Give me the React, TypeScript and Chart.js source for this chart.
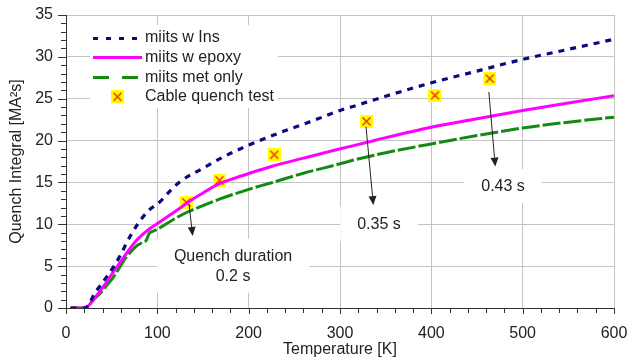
import React, { useEffect, useRef } from 'react';
import { Chart, registerables } from 'chart.js';

Chart.register(...registerables);

// ---- Data ----
const insT = [5, 20, 25, 30, 37, 45, 52, 60, 66, 72, 79, 90, 103, 114, 125, 150, 175, 201, 238, 271, 300, 318, 350, 400, 450, 500, 550, 600];
const insQ = [0, 0, 0.4, 1.5, 2.6, 3.8, 4.9, 6.4, 7.7, 8.9, 10.1, 11.6, 12.7, 14.0, 15.1, 16.7, 18.2, 19.5, 21.1, 22.4, 23.6, 24.2, 25.3, 26.9, 28.3, 29.7, 30.9, 32.1];

const epoxyT = [5, 20, 25, 30, 40, 48, 57, 66, 75, 81, 92, 103, 115, 125, 132, 147, 168, 183, 201, 223, 260, 296, 330, 350, 400, 450, 500, 550, 600];
const epoxyQ = [0, 0, 0.3, 1.0, 2.4, 3.7, 5.1, 6.5, 7.8, 8.5, 9.5, 10.3, 11.2, 11.95, 12.5, 13.55, 14.85, 15.45, 16.1, 16.85, 17.9, 18.9, 19.8, 20.35, 21.6, 22.6, 23.6, 24.5, 25.35];

const metT = [5, 21, 25, 30, 36, 41, 46, 52, 59, 66, 70, 77, 85, 88, 91, 96, 103, 115, 128, 136, 168, 201, 223, 260, 296, 318, 350, 400, 450, 500, 550, 600];
const metQ = [0, 0, 0.3, 1.0, 1.6, 2.2, 2.9, 3.7, 4.9, 6.1, 6.6, 7.4, 7.9, 8.1, 8.9, 9.2, 9.6, 10.4, 11.2, 11.6, 13.0, 14.2, 14.9, 16.1, 17.1, 17.75, 18.55, 19.6, 20.6, 21.5, 22.2, 22.8];

const testT = [132, 168, 228, 329, 404, 464];
const testQ = [12.6, 15.25, 18.3, 22.3, 25.4, 27.4];

const seriesNames = ['miits w Ins', 'miits w epoxy', 'miits met only', 'Cable quench test'];
const xTitle = 'Temperature [K]';
const yTitle = 'Quench Integral [MA\u00B2s]';

const noteTexts = [['Quench duration', '0.2 s'], ['0.35 s'], ['0.43 s']];
const noteAt = [[182.9, 4.93], [342.7, 9.92], [478.5, 14.45]];
const arrowFrom = [[134.7, 12.4], [328.5, 21.66], [463, 25.8]];
const arrowTo = [[138.7, 8.6], [336.5, 12.3], [470, 16.9]];

// ---- Styles ----
const FONT_FAMILY = '"Liberation Sans", Arial, sans-serif';
const FONT = '16px ' + FONT_FAMILY;
const TEXT = '#222222';
const GRID = '#c4c4c4';
const AXIS = '#333333';
const BLUE = '#0a0a80';
const PINK = '#ff00ff';
const GREEN = '#138a13';

function makeMarker(): HTMLCanvasElement {
  const c = document.createElement('canvas');
  c.width = 13;
  c.height = 13;
  const g = c.getContext('2d')!;
  g.fillStyle = '#ffff00';
  g.fillRect(0, 0, 13, 13);
  g.strokeStyle = '#ff2a00';
  g.lineWidth = 1.5;
  g.beginPath();
  g.moveTo(2.5, 2.5);
  g.lineTo(10.5, 10.5);
  g.moveTo(10.5, 2.5);
  g.lineTo(2.5, 10.5);
  g.stroke();
  return c;
}

function pts(xs: number[], ys: number[]) {
  return xs.map((v, i) => ({ x: v, y: ys[i] }));
}

export default function App() {
  const ref = useRef<HTMLCanvasElement | null>(null);

  useEffect(() => {
    document.body.style.margin = '0';
    const canvas = ref.current;
    if (!canvas) return;
    const marker = makeMarker();

    const overlay = {
      id: 'overlay',
      beforeDatasetsDraw(chart: any) {
        const { ctx, chartArea, scales } = chart;
        const x = scales.x, y = scales.y;
        ctx.save();
        ctx.fillStyle = '#ffffff';
        ctx.fillRect(chartArea.left + 24, chartArea.top + 10, 188, 83);
        ctx.font = FONT;
        noteTexts.forEach((lines, i) => {
          const cx = x.getPixelForValue(noteAt[i][0]);
          const cy = y.getPixelForValue(noteAt[i][1]);
          const w = Math.max(...lines.map((l) => ctx.measureText(l).width));
          const h = lines.length * 20;
          ctx.fillRect(cx - w / 2 - 17, cy - h / 2 - 8, w + 34, h + 14);
        });
        ctx.restore();
      },
      afterDatasetsDraw(chart: any) {
        const { ctx, chartArea, scales } = chart;
        const x = scales.x, y = scales.y;
        ctx.save();
        ctx.font = FONT;
        ctx.fillStyle = TEXT;
        ctx.textAlign = 'center';
        ctx.textBaseline = 'middle';
        noteTexts.forEach((lines, i) => {
          const cx = x.getPixelForValue(noteAt[i][0]);
          const cy = y.getPixelForValue(noteAt[i][1]);
          const h = lines.length * 20;
          lines.forEach((l, j) => {
            ctx.fillText(l, cx, cy - h / 2 + 10 + j * 20);
          });
        });
        ctx.strokeStyle = TEXT;
        ctx.fillStyle = TEXT;
        ctx.lineWidth = 1;
        arrowFrom.forEach((f, i) => {
          const x0 = x.getPixelForValue(f[0]);
          const y0 = y.getPixelForValue(f[1]);
          const x1 = x.getPixelForValue(arrowTo[i][0]);
          const y1 = y.getPixelForValue(arrowTo[i][1]);
          const ang = Math.atan2(y1 - y0, x1 - x0);
          const L = 9, W = 4;
          const bx = x1 - L * Math.cos(ang);
          const by = y1 - L * Math.sin(ang);
          ctx.beginPath();
          ctx.moveTo(x0, y0);
          ctx.lineTo(bx, by);
          ctx.stroke();
          ctx.beginPath();
          ctx.moveTo(x1, y1);
          ctx.lineTo(bx + W * Math.sin(ang), by - W * Math.cos(ang));
          ctx.lineTo(bx - W * Math.sin(ang), by + W * Math.cos(ang));
          ctx.closePath();
          ctx.fill();
        });
        const lx0 = chartArea.left + 27;
        const lx1 = chartArea.left + 76;
        const rowTop = chartArea.top + 22.7;
        const rowGap = 19.7;
        const styles = [
          { c: BLUE, d: [5, 8] },
          { c: PINK, d: [] },
          { c: GREEN, d: [16, 13] },
        ];
        styles.forEach((s, i) => {
          const ry = Math.round(rowTop + i * rowGap) + 0.5;
          ctx.strokeStyle = s.c;
          ctx.lineWidth = 3;
          ctx.setLineDash(s.d);
          ctx.beginPath();
          ctx.moveTo(lx0, ry);
          ctx.lineTo(lx1, ry);
          ctx.stroke();
        });
        ctx.setLineDash([]);
        ctx.drawImage(marker, (lx0 + lx1) / 2 - 6.5, rowTop + 3 * rowGap - 6.5);
        ctx.fillStyle = TEXT;
        ctx.textAlign = 'left';
        ctx.textBaseline = 'middle';
        seriesNames.forEach((n, i) => {
          ctx.fillText(n, lx1 + 3, rowTop + i * rowGap);
        });
        ctx.restore();
      },
      afterDraw(chart: any) {
        const { ctx, chartArea, scales } = chart;
        const x = scales.x, y = scales.y;
        ctx.save();
        ctx.strokeStyle = AXIS;
        ctx.lineWidth = 1;
        ctx.beginPath();
        for (let v = 0; v <= 600; v += 20) {
          const px = Math.round(x.getPixelForValue(v)) + 0.5;
          ctx.moveTo(px, chartArea.bottom);
          ctx.lineTo(px, chartArea.bottom + (v % 100 === 0 ? 6 : 5));
        }
        for (let v = 0; v <= 35; v += 1) {
          const py = Math.round(y.getPixelForValue(v)) + 0.5;
          ctx.moveTo(chartArea.left - (v % 5 === 0 ? 8 : 5), py);
          ctx.lineTo(chartArea.left, py);
        }
        ctx.stroke();
        ctx.restore();
      },
    };

    const chart = new Chart(canvas, {
      type: 'line',
      data: {
        datasets: [
          {
            label: seriesNames[0],
            data: pts(insT, insQ),
            borderColor: BLUE,
            borderWidth: 3.2,
            borderDash: [6, 6],
            pointRadius: 0,
            cubicInterpolationMode: 'monotone',
            fill: false,
          },
          {
            label: seriesNames[1],
            data: pts(epoxyT, epoxyQ),
            borderColor: PINK,
            borderWidth: 3,
            pointRadius: 0,
            cubicInterpolationMode: 'monotone',
            fill: false,
          },
          {
            label: seriesNames[2],
            data: pts(metT, metQ),
            borderColor: GREEN,
            borderWidth: 3,
            borderDash: [18, 3],
            pointRadius: 0,
            cubicInterpolationMode: 'monotone',
            fill: false,
          },
          {
            label: seriesNames[3],
            data: pts(testT, testQ),
            showLine: false,
            pointStyle: marker as any,
            pointRadius: 7,
            borderColor: '#ff2a00',
            backgroundColor: '#ffff00',
          },
        ],
      },
      options: {
        animation: false,
        responsive: false,
        layout: { padding: { left: 0, right: 14, top: 15, bottom: 0 } },
        plugins: { legend: { display: false }, tooltip: { enabled: false } },
        scales: {
          x: {
            type: 'linear',
            min: 0,
            max: 600,
            afterFit: (s: any) => {
              s.height = 50;
              s.paddingLeft = 0;
              s.paddingRight = 0;
            },
            ticks: {
              stepSize: 20,
              autoSkip: false,
              maxRotation: 0,
              padding: 10,
              color: TEXT,
              font: { family: FONT_FAMILY, size: 16 },
              callback: (v: any) => (Number(v) % 100 === 0 ? String(v) : ''),
            },
            grid: {
              color: (c: any) => (c.tick && c.tick.value % 100 === 0 ? GRID : 'rgba(0,0,0,0)'),
              tickColor: 'rgba(0,0,0,0)',
              tickLength: 6,
            },
            border: { display: true, color: AXIS, width: 1 },
            title: {
              display: true,
              text: xTitle,
              color: TEXT,
              font: { family: FONT_FAMILY, size: 16, lineHeight: 1 },
              padding: { top: 0, bottom: 0 },
            },
          },
          y: {
            type: 'linear',
            min: 0,
            max: 35,
            afterFit: (s: any) => {
              s.width = 66;
              s.paddingTop = 0;
              s.paddingBottom = 0;
            },
            ticks: {
              stepSize: 1,
              autoSkip: false,
              padding: 5,
              color: TEXT,
              font: { family: FONT_FAMILY, size: 16 },
              callback: (v: any) => (Number(v) % 5 === 0 ? String(v) : ''),
            },
            grid: {
              color: (c: any) => (c.tick && c.tick.value % 5 === 0 ? GRID : 'rgba(0,0,0,0)'),
              tickColor: 'rgba(0,0,0,0)',
              tickLength: 8,
            },
            border: { display: true, color: AXIS, width: 1 },
            title: {
              display: true,
              text: yTitle,
              color: TEXT,
              font: { family: FONT_FAMILY, size: 16, lineHeight: 1 },
              padding: { top: 9, bottom: 0 },
            },
          },
        },
      } as any,
      plugins: [overlay],
    });

    return () => chart.destroy();
  }, []);

  return (
    <div style={{ position: 'fixed', left: 0, top: 0, width: 628, height: 358 }}>
      <canvas ref={ref} width={628} height={358} style={{ width: 628, height: 358 }} />
    </div>
  );
}
